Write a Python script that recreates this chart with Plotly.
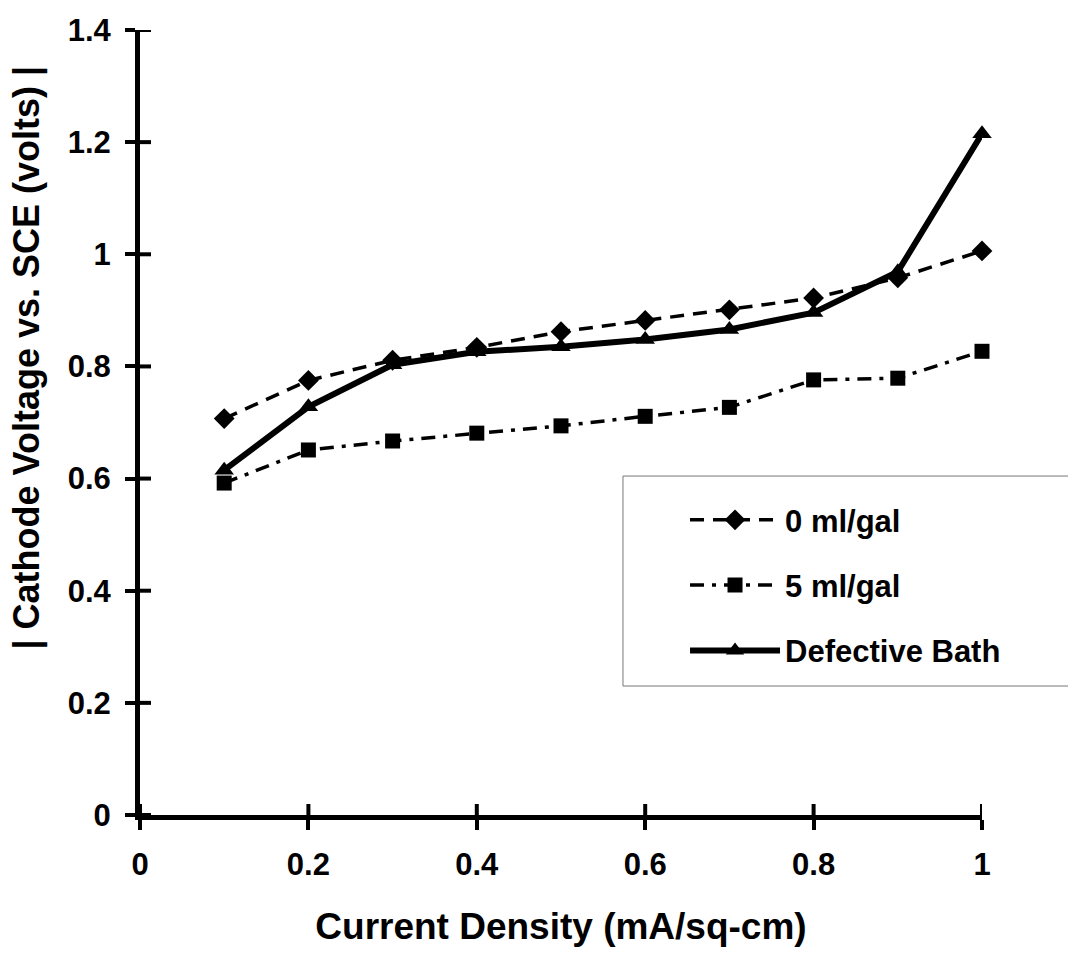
import plotly.graph_objects as go

current_density = [0.1, 0.2, 0.3, 0.4, 0.5, 0.6, 0.7, 0.8, 0.9, 1.0]
v_0ml = [0.707, 0.775, 0.811, 0.834, 0.862, 0.882, 0.901, 0.922, 0.958, 1.006]
v_5ml = [0.592, 0.651, 0.667, 0.681, 0.694, 0.711, 0.727, 0.776, 0.779, 0.827]
v_defective = [0.615, 0.728, 0.803, 0.826, 0.835, 0.848, 0.866, 0.896, 0.969, 1.215]
series_names = ["0 ml/gal", "5 ml/gal", "Defective Bath"]
x_ticks = [0, 0.2, 0.4, 0.6, 0.8, 1]
x_tick_text = ["0", "0.2", "0.4", "0.6", "0.8", "1"]
y_ticks = [0, 0.2, 0.4, 0.6, 0.8, 1.0, 1.2, 1.4]
y_tick_text = ["0", "0.2", "0.4", "0.6", "0.8", "1", "1.2", "1.4"]

FONT = "Liberation Sans, Arial, sans-serif"

fig = go.Figure()
fig.add_trace(go.Scatter(
    x=current_density, y=v_0ml, name=series_names[0], mode="lines+markers",
    line=dict(color="black", width=3.5, dash="14px,9px"),
    marker=dict(symbol="diamond", size=16, color="black"),
    cliponaxis=False, legendgroup="a"))
fig.add_trace(go.Scatter(
    x=current_density, y=v_5ml, name=series_names[1], mode="lines+markers",
    line=dict(color="black", width=3.5, dash="14px,8px,4px,8px"),
    marker=dict(symbol="square", size=15, color="black"),
    cliponaxis=False, legendgroup="b"))
fig.add_trace(go.Scatter(
    x=current_density, y=v_defective, name=series_names[2], mode="lines+markers",
    line=dict(color="black", width=6),
    marker=dict(symbol="triangle-up", size=17, color="black"),
    cliponaxis=False, legendgroup="c"))

axis_common = dict(showgrid=False, zeroline=False, showline=True, linecolor="black",
                   linewidth=5, tickcolor="black", tickwidth=4, ticklen=10)

# inner halves of the cross-shaped ticks, built from the tick lists
shapes = []
for yv in y_ticks:
    shapes.append(dict(type="line", xref="x", yref="y", xsizemode="pixel", xanchor=0,
                       x0=0, x1=11, y0=yv, y1=yv, line=dict(color="black", width=4)))
for xv in x_ticks:
    shapes.append(dict(type="line", xref="x", yref="y", ysizemode="pixel", yanchor=0,
                       y0=0, y1=11, x0=xv, x1=xv, line=dict(color="black", width=4)))
# legend frame (runs off the right edge as in the original)
shapes.append(dict(type="rect", xref="paper", yref="paper",
                   x0=0.5736, x1=1.2, y0=0.1643, y1=0.4318,
                   line=dict(color="#777", width=1), fillcolor="rgba(0,0,0,0)", layer="below"))

fig.update_layout(
    width=1068, height=956,
    margin=dict(l=140, r=86, t=30, b=141),
    paper_bgcolor="white", plot_bgcolor="white",
    font=dict(family=FONT, color="black"),
    showlegend=True,
    xaxis=dict(range=[0, 1], tickvals=x_ticks, ticktext=x_tick_text, ticks="outside",
               tickfont=dict(size=31, family=FONT, weight="bold"),
               ticklabelstandoff=8,
               title=dict(text="<b>Current Density (mA/sq-cm)</b>",
                          font=dict(size=37, family=FONT), standoff=33),
               **axis_common),
    yaxis=dict(range=[0, 1.4], tickvals=y_ticks, ticktext=y_tick_text, ticks="outside",
               tickfont=dict(size=31, family=FONT, weight="bold"),
               ticklabelstandoff=8,
               **axis_common),
    legend=dict(x=0.6473, y=0.41, xanchor="left", yanchor="top",
                bgcolor="rgba(0,0,0,0)", borderwidth=0,
                font=dict(size=31, family=FONT, weight="bold"),
                itemwidth=90, tracegroupgap=22, itemclick=False),
    shapes=shapes,
    annotations=[dict(text="<b>| Cathode Voltage vs. SCE (volts) |</b>",
                      xref="paper", yref="paper", x=-0.134, y=0.583,
                      xanchor="center", yanchor="middle",
                      textangle=-90, showarrow=False,
                      font=dict(size=36, family=FONT, color="black"))],
)

fig.write_html("out.html")
